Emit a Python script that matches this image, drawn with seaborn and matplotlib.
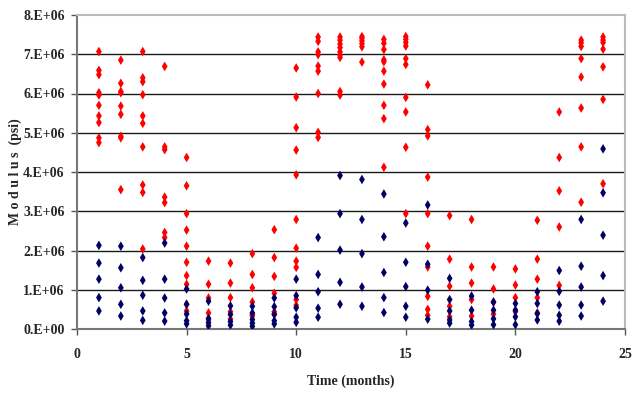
import numpy as np
import pandas as pd
import matplotlib
matplotlib.use("Agg")
import matplotlib.pyplot as plt
import seaborn as sns

# ---- data (modulus in units of 1e6 psi) ----
red_months = (
    [1]*10 + [2]*9 + [3]*10 + [4]*7 + [5]*10 + [6]*5 + [7]*5 + [8]*6 + [9]*6 +
    [10]*11 + [11]*9 + [12]*9 + [13]*6 + [14]*10 + [15]*10 + [16]*10 +
    [17]*5 + [18]*5 + [19]*4 + [20]*4 + [21]*5 + [22]*5 + [23]*8 + [24]*7
)
red_values = [
    7.07, 6.59, 6.48, 6.02, 5.96, 5.70, 5.43, 5.26, 4.87, 4.75,
    6.85, 6.26, 6.05, 5.68, 5.47, 4.91, 4.87, 3.55, 6.02,
    7.07, 6.40, 6.30, 5.97, 5.43, 5.24, 4.64, 3.67, 3.48, 2.04,
    6.69, 4.64, 4.57, 3.36, 3.22, 2.46, 2.33,
    4.37, 3.65, 2.94, 2.52, 2.11, 1.70, 1.36, 1.14, 0.63, 0.46,
    1.73, 1.14, 0.79, 0.41, 0.23,
    1.68, 1.17, 0.80, 0.44, 0.25,
    1.92, 1.39, 1.05, 0.69, 0.37, 0.33,
    2.53, 1.82, 1.34, 0.91, 0.44, 0.38,
    6.65, 5.91, 5.13, 4.56, 3.93, 2.79, 2.06, 1.73, 1.57, 0.75, 0.60,
    7.44, 7.33, 7.06, 6.99, 6.70, 6.57, 6.00, 5.01, 4.88,
    7.44, 7.36, 7.26, 7.17, 7.06, 6.98, 6.92, 6.05, 5.96,
    7.45, 7.40, 7.34, 7.27, 7.19, 6.80,
    7.38, 7.28, 7.12, 6.86, 6.81, 6.57, 6.24, 5.70, 5.36, 4.12,
    7.45, 7.38, 7.30, 7.21, 6.89, 6.74, 5.90, 5.53, 4.63, 2.94,
    6.22, 5.08, 4.92, 3.87, 2.94, 2.11, 1.58, 0.83, 0.35, 0.50,
    2.89, 1.78, 1.09, 0.58, 0.31,
    2.79, 1.58, 1.17, 0.75, 0.33,
    1.58, 1.02, 0.68, 0.38,
    1.53, 1.12, 0.80, 0.44,
    2.77, 1.78, 1.27, 0.80, 0.41,
    5.53, 4.37, 3.52, 2.60, 1.11,
    7.36, 7.29, 7.20, 6.89, 6.42, 5.63, 4.64, 3.23,
    7.44, 7.36, 7.30, 7.13, 6.68, 5.85, 3.70,
]

blue_months = (
    [1]*5 + [2]*5 + [3]*5 + [4]*5 + [5]*5 + [6]*4 + [7]*4 + [8]*5 + [9]*5 +
    [10]*5 + [11]*5 + [12]*5 + [13]*5 + [14]*5 + [15]*5 + [16]*4 +
    [17]*5 + [18]*4 + [19]*4 + [20]*4 + [21]*4 + [22]*5 + [23]*5 + [24]*5
)
blue_values = [
    2.13, 1.68, 1.27, 0.80, 0.46,
    2.11, 1.56, 1.05, 0.63, 0.33,
    1.82, 1.24, 0.86, 0.46, 0.22,
    2.19, 1.27, 0.79, 0.41, 0.20,
    1.02, 0.63, 0.38, 0.21, 0.13,
    0.71, 0.27, 0.16, 0.08,
    0.59, 0.37, 0.19, 0.10,
    0.58, 0.41, 0.24, 0.15, 0.07,
    0.79, 0.57, 0.37, 0.21, 0.13,
    1.27, 0.85, 0.54, 0.30, 0.17,
    2.33, 1.39, 0.95, 0.53, 0.30,
    3.91, 2.94, 2.01, 1.19, 0.63,
    3.81, 2.79, 1.92, 1.07, 0.58,
    3.44, 2.35, 1.44, 0.80, 0.42,
    2.70, 1.70, 1.08, 0.58, 0.30,
    3.16, 1.65, 0.99, 0.25,
    1.29, 0.75, 0.46, 0.23, 0.15,
    0.84, 0.48, 0.19, 0.10,
    0.69, 0.48, 0.26, 0.11,
    0.65, 0.48, 0.31, 0.11,
    0.95, 0.65, 0.39, 0.23,
    1.49, 0.96, 0.61, 0.35, 0.20,
    2.79, 1.60, 1.07, 0.61, 0.33,
    4.59, 3.47, 2.39, 1.36, 0.71,
]

y_ticks = [0, 1, 2, 3, 4, 5, 6, 7, 8]
y_tick_labels = ["0.E+00", "1.E+06", "2.E+06", "3.E+06", "4.E+06",
                 "5.E+06", "6.E+06", "7.E+06", "8.E+06"]
x_ticks = [0, 5, 10, 15, 20, 25]

df = pd.DataFrame({
    "month": red_months + blue_months,
    "modulus": [v * 1e6 for v in red_values] + [v * 1e6 for v in blue_values],
    "series": ["red"] * len(red_values) + ["blue"] * len(blue_values),
})

sns.set_style("white")
plt.rcParams["font.family"] = ["Liberation Serif", "DejaVu Serif"]
plt.rcParams["font.weight"] = "bold"

fig = plt.figure(figsize=(6.33, 3.99), dpi=100)
ax = fig.add_axes([77 / 633, 1 - 329 / 399, (625 - 77) / 633, (329 - 15) / 399])

for y in y_ticks[1:-1]:
    ax.axhline(y * 1e6, color="#1a1a1a", lw=1.0, zorder=0)

sns.scatterplot(data=df, x="month", y="modulus", hue="series",
                palette={"red": "#FF0000", "blue": "#000066"},
                marker="d", s=24, edgecolor="none", legend=False, ax=ax,
                zorder=3)

ax.set_xlim(0, 25)
ax.set_ylim(0, 8e6)
ax.set_xticks(x_ticks)
ax.set_xticklabels([str(t) for t in x_ticks], fontsize=10, fontweight="bold")
ax.set_yticks([t * 1e6 for t in y_ticks])
ax.set_yticklabels(y_tick_labels, fontsize=10, fontweight="bold")
ax.tick_params(axis="both", direction="out", length=4, width=1, color="#555555",
               bottom=True, left=True)
ax.tick_params(axis="y", pad=5)
ax.tick_params(axis="x", pad=10)

for side in ["left", "bottom"]:
    ax.spines[side].set_color("#777777")
    ax.spines[side].set_linewidth(1.5)
for side in ["top", "right"]:
    ax.spines[side].set_color("#BBBBBB")
    ax.spines[side].set_linewidth(1.5)

ax.set_xlabel("Time (months)", fontsize=10, fontweight="bold")
ax.set_ylabel("M o d u l u s  (psi)", fontsize=10, fontweight="bold")
ax.xaxis.set_label_coords(0.5, (329 - 381) / 314, transform=ax.transAxes)
ax.yaxis.set_label_coords((15 - 77) / 548, 0.5, transform=ax.transAxes)
ax.xaxis.label.set_verticalalignment("center")
ax.yaxis.label.set_verticalalignment("center")

fig.savefig("out.png", dpi=100)
